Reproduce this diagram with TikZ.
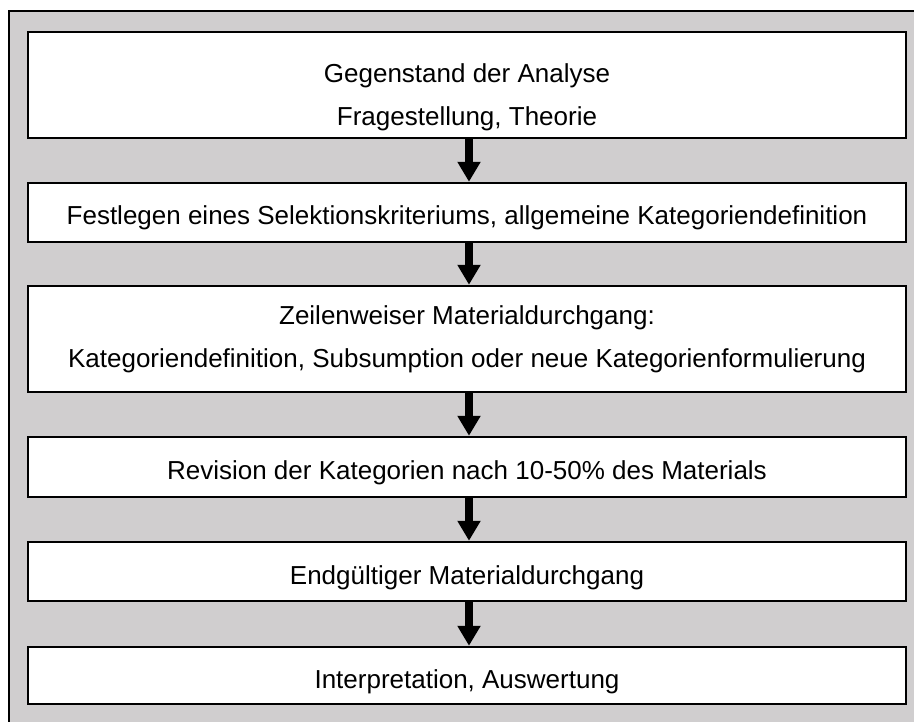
\documentclass[tikz,border=0pt]{standalone}
\usepackage{fontspec}
\setmainfont{Liberation Sans}
\usetikzlibrary{arrows.meta}
\definecolor{panelgray}{HTML}{D0CECF}
\tikzset{
  stagebox/.style={draw=black, line width=2.4pt, fill=white,
    minimum width=878pt, inner sep=0pt, align=center,
    font=\fontsize{26pt}{43pt}\selectfont},
  oneline/.style={text height=31pt, text depth=6pt},
  flowarrow/.style={line width=8pt, -{Triangle[width=22pt,length=20pt]}}
}
\begin{document}
\begin{tikzpicture}[x=1pt,y=-1pt]
  \useasboundingbox (0,0) rectangle (914,722);
  \clip (0,0) rectangle (914,722);
  % grey panel behind the flow
  \draw[fill=panelgray, draw=black, line width=2pt] (9,11) rectangle (930,740);
  % stages
  \node[stagebox, minimum height=106pt] (s1) at (467,85)
    {\rule{0pt}{43pt}Gegenstand der Analyse\\Fragestellung, Theorie};
  \node[stagebox, oneline, minimum height=59pt] (s2) at (467,212.5)
    {Festlegen eines Selektionskriteriums, allgemeine Kategoriendefinition};
  \node[stagebox, minimum height=106pt] (s3) at (467,339)
    {Zeilenweiser Materialdurchgang:\\Kategoriendefinition, Subsumption oder neue Kategorienformulierung};
  \node[stagebox, oneline, minimum height=60pt] (s4) at (467,467)
    {Revision der Kategorien nach 10-50\% des Materials};
  \node[stagebox, oneline, minimum height=59pt] (s5) at (467,571.5)
    {Endgültiger Materialdurchgang};
  \node[stagebox, oneline, minimum height=57pt] (s6) at (467,675.5)
    {Interpretation, Auswertung};
  % connectors
  \foreach \a/\b in {s1/s2, s2/s3, s3/s4, s4/s5, s5/s6}
    \draw[flowarrow] ([xshift=2pt]\a.south) -- ([xshift=2pt]\b.north);
\end{tikzpicture}
\end{document}
